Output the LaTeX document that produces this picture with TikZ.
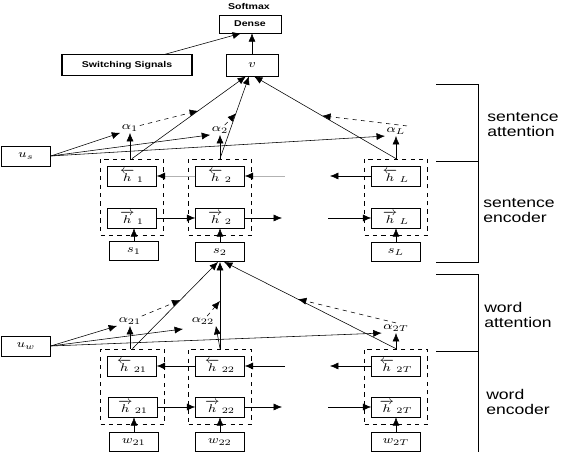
\documentclass[tikz,border=0pt]{standalone}
\usepackage{amsmath}
\usepackage{graphicx}
\usepackage{fontspec}
\newfontfamily\labelfont[FakeStretch=1.25]{Liberation Sans}
\usetikzlibrary{arrows.meta,positioning,fit,calc}
\newcommand{\lbl}[1]{\scalebox{1.2}[1]{$#1$}}
\tikzset{
  cell/.style={draw, minimum width=1.22cm, minimum height=0.5cm, inner sep=1pt, font=\fontsize{8.5}{9}\selectfont},
  inbox/.style={cell, minimum height=0.48cm},
  grp/.style={draw, dashed, inner sep=0.17cm},
  wt/.style={inner sep=1pt, font=\fontsize{8.5}{9}\selectfont},
  side/.style={align=left, anchor=west, inner sep=0pt, font=\labelfont\fontsize{10}{10.7}\selectfont},
  tag/.style={font=\labelfont\bfseries\fontsize{6}{7}\selectfont},
  arr/.style={->, > = {Latex[length=6pt,width=5pt]}},
  dasharr/.style={arr, dashed},
  greyarr/.style={draw=gray!60, -{Latex[length=6pt,width=5pt,color=black]}},
}
\begin{document}
\begin{tikzpicture}[x=0.025cm, y=-0.025cm]
\useasboundingbox (0,0) rectangle (562,452);
%dense layer and switching signals
\node[tag] (softmax) at (249,6) {Softmax};
\node[draw, tag, minimum width=1.55cm, minimum height=0.45cm] (dense) at (250,24) {Dense};
\node[draw, tag, minimum width=3.25cm, minimum height=0.52cm] (switch) at (127,65) {Switching Signals};
\draw[line width=1.2pt] (switch.north west) -- (switch.south west); \draw[line width=1.2pt] (switch.north east) -- (switch.south east);
\node[cell, minimum width=1.3cm, minimum height=0.55cm] (v) at (252,65) {\lbl{v}};
\draw[arr] (v.north) -- (v.north |- dense.south);
\draw[arr] ($(switch.north)+(38,0)$) -- ($(dense.south)+(-9,0)$);
%sentence encoder
\node[cell] (hb1) at (132,176) {\lbl{\overleftarrow{h}\,{}_{1}}}; \node[cell] (hf1) at (132,218) {\lbl{\overrightarrow{h}\,{}_{1}}};
\node[cell] (hb2) at (220,176) {\lbl{\overleftarrow{h}\,{}_{2}}}; \node[cell] (hf2) at (220,218) {\lbl{\overrightarrow{h}\,{}_{2}}};
\node[cell] (hbL) at (396,176) {\lbl{\overleftarrow{h}\,{}_{L}}}; \node[cell] (hfL) at (396,218) {\lbl{\overrightarrow{h}\,{}_{L}}};
\node[grp, fit=(hb1)(hf1)] (sg1) {}; \node[grp, fit=(hb2)(hf2)] (sg2) {}; \node[grp, fit=(hbL)(hfL)] (sgL) {};
\node[inbox] (s1) at (134,251) {\lbl{s_1}}; \node[inbox] (s2) at (220,252) {\lbl{s_2}}; \node[inbox] (sL) at (396,252) {\lbl{s_L}};
\draw[arr] (s1.north) -- (s1.north |- hf1.south); \draw[arr] (s2) -- (hf2); \draw[arr] (sL) -- (hfL);
\coordinate (fe2) at (282,218); \coordinate (fsL) at (328,218);
\draw[arr] (hf1) -- (hf2); \draw[arr] (hf2) -- (fe2); \draw[arr] (fsL) -- (hfL);
\coordinate (bbL) at (330,176); \coordinate (bb2) at (285,176);
\draw[arr] (hbL) -- (bbL); \draw[greyarr] (bb2) -- (hb2); \draw[greyarr] (hb2) -- (hb1);
%sentence attention
\node[cell] (us) at (26,156) {\lbl{u_s}};
\node[wt] (a1) at (130,128) {\lbl{\alpha_1}}; \node[wt] (a2) at (220,130) {\lbl{\alpha_2}}; \node[wt] (aL) at (396,131) {\lbl{\alpha_L}};
\draw[arr] (a1.south |- sg1.north) -- (a1.south); \draw[arr] (a2.south |- sg2.north) -- (a2.south); \draw[arr] (aL.south |- sgL.north) -- (aL.south);
\draw[arr] (us.east) -- (a1.south west); \draw[arr] (us.east) -- (a2.south west); \draw[arr] (us.east) -- (aL.south west);
\draw[arr] (sg1.north) -- coordinate[pos=0.58] (m1) ($(v.south)+(-6,0)$);
\draw[arr] (sg2.north) -- coordinate[pos=0.55] (m2) ($(v.south)+(-3,0)$);
\draw[arr] (sgL.north) -- coordinate[pos=0.52] (mL) ($(v.south)+(2,0)$);
\draw[dasharr] (a1) -- (m1); \draw[dasharr] (a2) -- (m2); \draw[dasharr] (aL.north east) -- (mL);
%word encoder
\node[cell] (hb21) at (132,366) {\lbl{\overleftarrow{h}\,{}_{21}}}; \node[cell] (hf21) at (133,407) {\lbl{\overrightarrow{h}\,{}_{21}}};
\node[cell] (hb22) at (220,366) {\lbl{\overleftarrow{h}\,{}_{22}}}; \node[cell] (hf22) at (220,407) {\lbl{\overrightarrow{h}\,{}_{22}}};
\node[cell] (hb2T) at (396,366) {\lbl{\overleftarrow{h}\,{}_{2T}}}; \node[cell] (hf2T) at (396,407) {\lbl{\overrightarrow{h}\,{}_{2T}}};
\node[grp, fit=(hb21)(hf21)] (wg21) {}; \node[grp, fit=(hb22)(hf22)] (wg22) {}; \node[grp, fit=(hb2T)(hf2T)] (wg2T) {};
\node[inbox] (w21) at (134,442) {\lbl{w_{21}}}; \node[inbox] (w22) at (220,442) {\lbl{w_{22}}}; \node[inbox] (w2T) at (396,442) {\lbl{w_{2T}}};
\draw[arr] (w21.north) -- (w21.north |- hf21.south); \draw[arr] (w22) -- (hf22); \draw[arr] (w2T) -- (hf2T);
\coordinate (fe22) at (282,407); \coordinate (fs2T) at (328,407);
\draw[arr] (hf21) -- (hf22); \draw[arr] (hf22) -- (fe22); \draw[arr] (fs2T) -- (hf2T);
\coordinate (bb2T) at (330,366); \coordinate (bb22) at (285,366);
\draw[arr] (hb2T) -- (bb2T); \draw[arr] (bb22) -- (hb22); \draw[arr] (hb22) -- (hb21);
%word attention
\node[cell] (uw) at (26,346) {\lbl{u_w}};
\node[wt] (a21) at (130,321) {\lbl{\alpha_{21}}}; \node[wt] (a22) at (203,321) {\lbl{\alpha_{22}}}; \node[wt] (a2T) at (396,328) {\lbl{\alpha_{2T}}};
\coordinate (p22) at (183,329);
\draw[arr] (a21.south |- wg21.north) -- (a21.south); \draw[arr] (wg22.north) -- (a22.south east); \draw[arr] (a2T.south |- wg2T.north) -- (a2T.south);
\draw[arr] (uw.east) -- (a21.south west); \draw[arr] (uw.east) -- (p22); \draw[arr] (uw.east) -- (a2T.south west);
\draw[arr] (wg21.north) -- coordinate[pos=0.56] (m21) ($(s2.south)+(-2,0)$);
\draw[arr] (wg22.north) -- coordinate[pos=0.55] (m22) (s2.south);
\draw[arr] (wg2T.north) -- coordinate[pos=0.57] (m2T) ($(s2.south)+(4,0)$);
\draw[dasharr] (a21) -- (m21); \draw[dasharr] (a22) -- (m22); \draw[dasharr] (a2T.north) -- (m2T);
%brackets on the right
\draw (436,84) -- (478,84) -- (478,262) -- (436,262); \draw (436,161) -- (478,161);
\draw (436,274) -- (478,274) -- (478,452); \draw (436,351) -- (478,351);
\node[side] (satt) at (487,125) {sentence\\attention};
\node[side] (senc) at (483,211) {sentence\\encoder};
\node[side] (watt) at (484,315) {word\\attention};
\node[side] (wenc) at (486,402) {word\\encoder};
\end{tikzpicture}
\end{document}
